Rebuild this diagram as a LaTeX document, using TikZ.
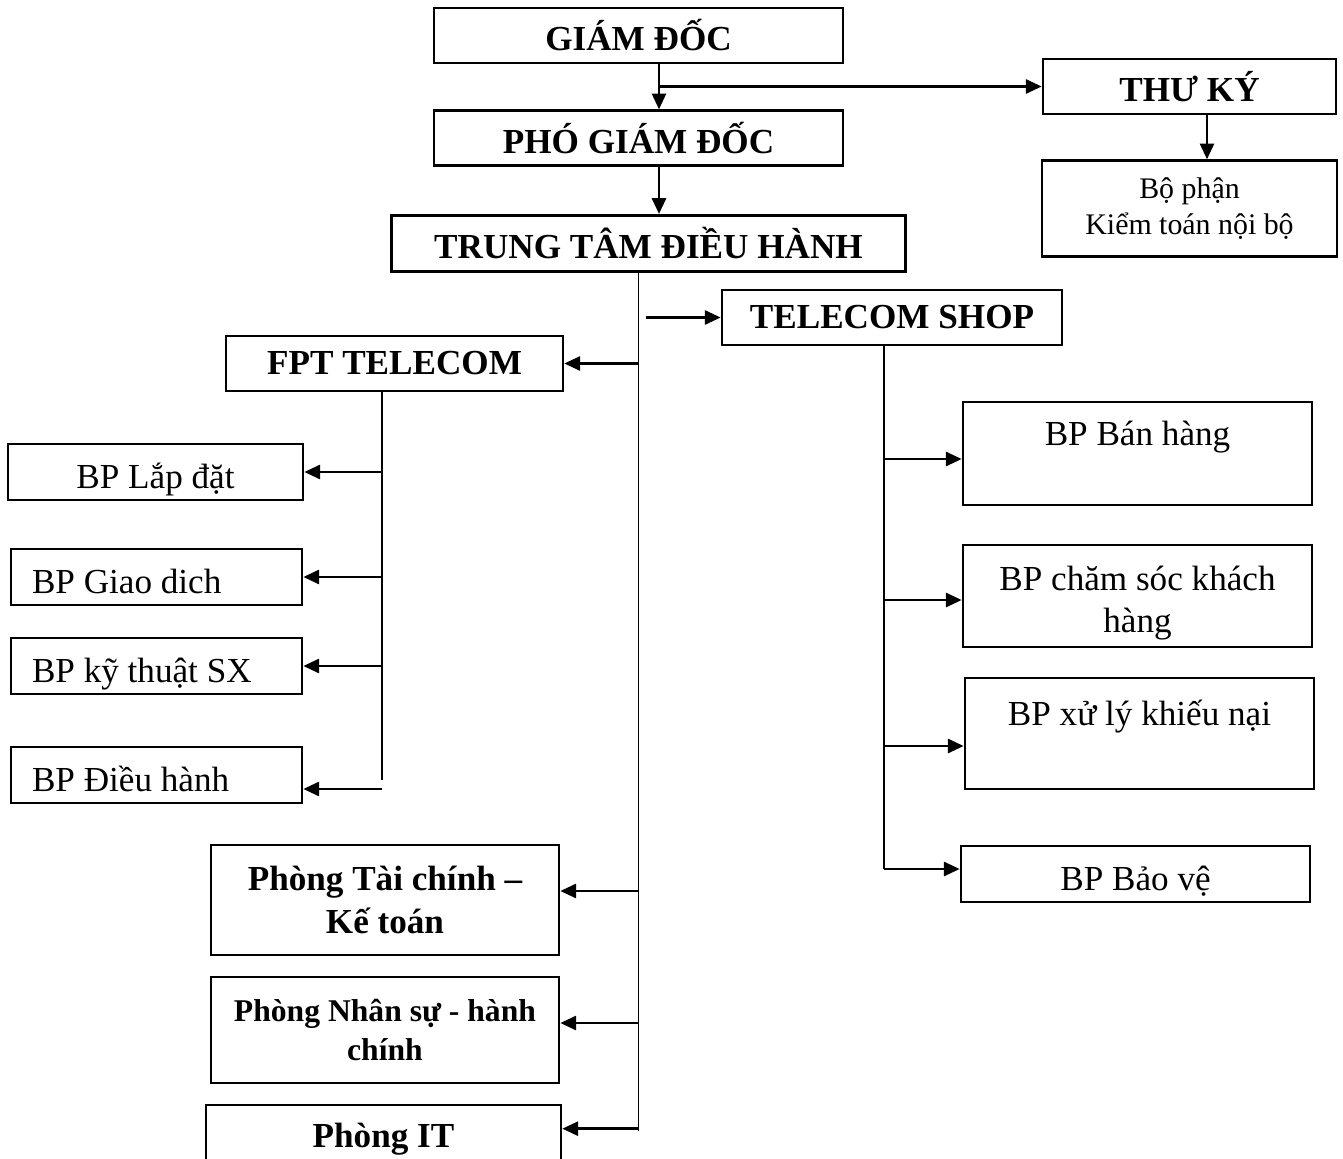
\documentclass[tikz,border=0pt]{standalone}
\usepackage{fontspec}
\setmainfont{Liberation Serif}
\usetikzlibrary{arrows.meta,positioning}
\tikzset{
  % Base box
  BX/.style={rectangle,draw,line width=1.5pt,inner sep=2pt,
             text centered,align=center,
             font=\fontsize{20}{24}\selectfont},
  % Bold heading box
  HB/.style={BX,minimum height=1.1cm,
             font=\fontsize{20}{24}\selectfont\bfseries},
  % One line unit box, text a bit low
  bp1/.style={BX,minimum height=1.12cm,inner ysep=0pt,
              text height=0.8cm,text depth=0.14cm},
  % Unit box, text on the left
  bpL/.style={bp1,text width=4.98cm,inner xsep=0.42cm,align=flush left},
  % Unit box, two lines
  bpC/.style={BX,minimum width=6.98cm,text height=1.62cm},
  % Arrow
  arr/.style={-{Triangle[length=9pt,width=8pt]},line width=1.5pt},
  % Plain line
  ln/.style={line width=0.9pt}
}
\begin{document}
\begin{tikzpicture}
  \path[use as bounding box,clip] (0,0) rectangle (26.86,-23.18);
  \node[HB,minimum width=8.18cm] (gd) at (12.77,-0.71) {GIÁM ĐỐC};
  \node[HB,minimum width=8.18cm,below=0.9cm of gd] (pgd) {PHÓ GIÁM ĐỐC};
  \node[HB,minimum width=10.28cm,minimum height=1.12cm,below=0.94cm of pgd,xshift=0.2cm] (ttdh) {TRUNG TÂM ĐIỀU HÀNH};
  \node[HB,minimum width=5.86cm] (thuky) at (23.79,-1.73) {THƯ KÝ};
  \node[BX,minimum width=5.9cm,minimum height=1.92cm,below=0.88cm of thuky,
        font=\fontsize{17}{20.5}\selectfont] (ktnb) {Bộ phận\\Kiểm toán nội bộ};
  \node[HB,minimum width=6.8cm] (shop) at (17.84,-6.35) {TELECOM SHOP};
  \node[HB,minimum width=6.74cm] (fpt) at (7.89,-7.27) {FPT TELECOM};
  \node[bp1,minimum width=5.9cm] (lapdat) at (3.11,-9.44) {BP Lắp đặt};
  \node[bpL] (giaodich) at (3.13,-11.54) {BP Giao dich};
  \node[bpL] (kythuat) at (3.13,-13.32) {BP kỹ thuật SX};
  \node[bpL] (dieuhanh) at (3.13,-15.5) {BP Điều hành};
  \node[HB,minimum width=6.96cm,minimum height=2.2cm] (taichinh) at (7.7,-18.0) {Phòng Tài chính –\\Kế toán};
  \node[HB,minimum width=6.96cm,minimum height=2.12cm,
        font=\fontsize{18}{22}\selectfont\bfseries] (nhansu) at (7.7,-20.6) {Phòng Nhân sự - hành\\chính};
  \node[HB,minimum width=7.1cm,minimum height=1.36cm] (phongit) at (7.67,-22.78) {Phòng IT};
  \node[bpC,minimum height=2.06cm] (banhang) at (22.75,-9.07) {BP Bán hàng\\\strut};
  \node[bpC,minimum height=2.04cm] (chamsoc) at (22.75,-11.92) {BP chăm sóc khách\\hàng};
  \node[bpC,minimum height=2.22cm] (xuly) at (22.79,-14.67) {BP xử lý khiếu nại\\\strut};
  \node[bp1,minimum width=6.98cm] (baove) at (22.71,-17.48) {BP Bảo vệ};
  \draw[arr] ([xshift=0.41cm]gd.south) -- ([xshift=0.41cm]gd.south |- pgd.north);
  \draw[arr] ([xshift=0.41cm]gd.south) |- (thuky.west);
  \draw[arr] ([xshift=0.41cm]pgd.south) -- ([xshift=0.41cm]pgd.south |- ttdh.north);
  \draw[arr] ([xshift=0.35cm]thuky.south) -- ([xshift=0.35cm]thuky.south |- ktnb.north);
  \coordinate (trk) at ([xshift=-0.2cm]ttdh.south);
  \coordinate (trkend) at ([yshift=-0.04cm]trk |- phongit.north east);
  \draw[ln] (trk) -- ([yshift=-0.5cm]trkend);
  \draw[arr] ([xshift=0.14cm]trk |- shop.west) -- (shop.west);
  \draw[arr] (trk |- fpt.east) -- (fpt.east);
  \draw[arr] ([yshift=0.18cm]trk |- taichinh.east) -- ([yshift=0.18cm]taichinh.east);
  \draw[arr] ([yshift=0.14cm]trk |- nhansu.east) -- ([yshift=0.14cm]nhansu.east);
  \draw[arr] ([yshift=-0.46cm]trkend) -- ([yshift=-0.46cm]trkend -| phongit.east);
  \coordinate (fl) at ([xshift=-0.25cm]fpt.south);
  \draw[ln] (fl) -- ([yshift=-0.1cm]fl |- dieuhanh.east);
  \draw[arr] (fl |- lapdat.east) -- (lapdat.east);
  \draw[arr] (fl |- giaodich.east) -- (giaodich.east);
  \draw[arr] (fl |- kythuat.east) -- (kythuat.east);
  \draw[arr] ([yshift=-0.28cm]fl |- dieuhanh.east) -- ([yshift=-0.28cm]dieuhanh.east);
  \coordinate (sl) at ([xshift=-0.16cm]shop.south);
  \draw[ln] (sl) -- ([yshift=0.1cm]sl |- baove.west);
  \draw[arr] ([yshift=-0.11cm]sl |- banhang.west) -- ([yshift=-0.11cm]banhang.west);
  \draw[arr] ([yshift=-0.08cm]sl |- chamsoc.west) -- ([yshift=-0.08cm]chamsoc.west);
  \draw[arr] ([yshift=-0.25cm]sl |- xuly.west) -- ([yshift=-0.25cm]xuly.west);
  \draw[arr] ([yshift=0.1cm]sl |- baove.west) -- ([yshift=0.1cm]baove.west);
\end{tikzpicture}
\end{document}
